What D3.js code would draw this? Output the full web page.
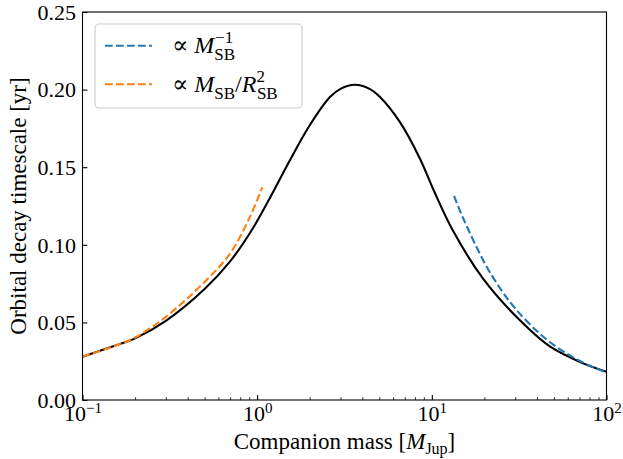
<!DOCTYPE html>
<html>
<head>
<meta charset="utf-8">
<script src="https://cdn.jsdelivr.net/npm/d3@7"></script>
<style>
  body { margin: 0; background: #fff; }
  svg text { font-family: "Liberation Serif", "DejaVu Serif", serif; fill: #000; }
</style>
</head>
<body>
<div id="chart"></div>
<script>
// companion mass [M_Jup] and orbital decay timescale [yr]
var fullMass = [0.1, 0.15, 0.2, 0.3, 0.5, 0.7, 0.93, 1.18, 1.54, 2.0, 2.61, 3.0, 3.63, 4.4, 5.05, 6.57, 8.55, 10.4, 13.3, 19.7, 30.5, 47.4, 73.6, 100];
var fullTau  = [0.0278, 0.0347, 0.0397, 0.051, 0.0715, 0.0893, 0.1094, 0.130, 0.1545, 0.177, 0.1952, 0.2005, 0.2031, 0.2005, 0.1952, 0.179, 0.1555, 0.1335, 0.1085, 0.078, 0.0536, 0.0345, 0.0236, 0.0182];

// high-mass limit, tau ~ 1/M
var invMass = [13.4, 15, 20, 25, 30, 40, 50, 60, 70, 80, 100];
var invTau  = [0.1315, 0.118, 0.0885, 0.0708, 0.059, 0.0443, 0.0354, 0.0295, 0.0253, 0.0221, 0.0178];

// low-mass limit, tau ~ M/R^2
var lowMass = [0.1, 0.15, 0.2, 0.3, 0.5, 0.7, 0.9, 1.07];
var lowTau  = [0.028, 0.0345, 0.0403, 0.0536, 0.0761, 0.0944, 0.117, 0.137];

var xMajor = [0.1, 1, 10, 100];
var xExp = ["\u22121", "0", "1", "2"];
var yTicks = [0, 0.05, 0.10, 0.15, 0.20, 0.25];

(function() {
    var W = 623, H = 459;
    var pL = 82.5, pR = 606.5, pT = 12, pB = 400;

    var svg = d3.select("#chart").append("svg").attr("width", W).attr("height", H);

    var x = d3.scaleLog().domain([0.1, 100]).range([pL, pR]);
    var y = d3.scaleLinear().domain([0, 0.25]).range([pB, pT]);

    // minor ticks on the log axis
    var minor = [];
    [0.1, 1, 10].forEach(function(d) {
        for (var k = 2; k <= 9; k++) minor.push(d * k);
    });

    svg.append("g")
        .attr("transform", "translate(0," + pB + ")")
        .call(d3.axisBottom(x).tickValues(minor).tickSize(-2.8).tickFormat(""))
        .call(function(g) { g.select(".domain").remove(); })
        .selectAll("line").attr("stroke-width", 0.8);

    var xg = svg.append("g")
        .attr("transform", "translate(0," + pB + ")")
        .call(d3.axisBottom(x).tickValues(xMajor).tickSize(-4.9).tickFormat(""));
    xg.select(".domain").remove();
    xg.selectAll("line").attr("stroke-width", 1.1);
    xg.selectAll(".tick text").remove();
    xg.selectAll(".tick").append("text")
        .attr("y", 21)
        .attr("text-anchor", "middle")
        .attr("font-size", 22)
        .each(function(d, i) {
            var t = d3.select(this);
            t.append("tspan").text("10");
            t.append("tspan").attr("dy", -8).attr("font-size", 15).text(xExp[i]);
        });

    var yg = svg.append("g")
        .attr("transform", "translate(" + pL + ",0)")
        .call(d3.axisLeft(y).tickValues(yTicks).tickSize(-4.9).tickPadding(6.5)
            .tickFormat(d3.format(".2f")));
    yg.select(".domain").remove();
    yg.selectAll("line").attr("stroke-width", 1.1);
    yg.selectAll("text").attr("font-size", 22).attr("dy", "0.33em");

    // curves
    var line = d3.line()
        .x(function(d) { return x(d[0]); })
        .y(function(d) { return y(d[1]); })
        .curve(d3.curveCatmullRom.alpha(0.5));

    svg.append("path")
        .datum(d3.zip(fullMass, fullTau))
        .attr("d", line)
        .attr("fill", "none")
        .attr("stroke", "#000")
        .attr("stroke-width", 2.1);

    svg.append("path")
        .datum(d3.zip(invMass, invTau))
        .attr("d", line)
        .attr("fill", "none")
        .attr("stroke", "#1f77b4")
        .attr("stroke-width", 2.1)
        .attr("stroke-dasharray", "7.7,3.3");

    svg.append("path")
        .datum(d3.zip(lowMass, lowTau))
        .attr("d", line)
        .attr("fill", "none")
        .attr("stroke", "#ff7f0e")
        .attr("stroke-width", 2.1)
        .attr("stroke-dasharray", "7.7,3.3");

    // frame
    svg.append("rect")
        .attr("x", pL).attr("y", pT)
        .attr("width", pR - pL).attr("height", pB - pT)
        .attr("fill", "none").attr("stroke", "#000").attr("stroke-width", 1.1);

    // legend
    var lg = svg.append("g");
    lg.append("rect")
        .attr("x", 95).attr("y", 24).attr("width", 207).attr("height", 84)
        .attr("rx", 4)
        .attr("fill", "#fff").attr("fill-opacity", 0.8)
        .attr("stroke", "#ccc").attr("stroke-width", 1.1);

    var legendItems = [
        { color: "#1f77b4", yy: 45.7 },
        { color: "#ff7f0e", yy: 84.3 }
    ];
    legendItems.forEach(function(it, i) {
        lg.append("line")
            .attr("x1", 105).attr("x2", 152)
            .attr("y1", it.yy).attr("y2", it.yy)
            .attr("stroke", it.color).attr("stroke-width", 2.1)
            .attr("stroke-dasharray", "7.7,3.3");
        var t = lg.append("text")
            .attr("x", 172).attr("y", it.yy + 7.5)
            .attr("font-size", 24);
        t.append("tspan").text("\u221D ");
        t.append("tspan").attr("font-style", "italic").text("M");
        if (i === 0) {
            t.append("tspan").attr("font-size", 17).attr("dy", 7).text("SB");
            t.append("tspan").attr("font-size", 17).attr("dx", -20).attr("dy", -17).text("\u22121");
        } else {
            t.append("tspan").attr("font-size", 17).attr("dy", 7).text("SB");
            t.append("tspan").attr("dy", -7).text("/");
            t.append("tspan").attr("font-style", "italic").text("R");
            t.append("tspan").attr("font-size", 17).attr("dy", -10).text("2");
            t.append("tspan").attr("font-size", 17).attr("dx", -8).attr("dy", 17).text("SB");
        }
    });

    // axis titles
    var xt = svg.append("text")
        .attr("x", (pL + pR) / 2).attr("y", 449)
        .attr("text-anchor", "middle")
        .attr("font-size", 23);
    xt.append("tspan").text("Companion mass [");
    xt.append("tspan").attr("font-style", "italic").text("M");
    xt.append("tspan").attr("font-size", 16).attr("dy", 5).text("Jup");
    xt.append("tspan").attr("dy", -5).text("]");

    svg.append("text")
        .attr("transform", "translate(26," + ((pT + pB) / 2) + ") rotate(-90)")
        .attr("text-anchor", "middle")
        .attr("font-size", 23)
        .text("Orbital decay timescale [yr]");
})();
</script>
</body>
</html>
